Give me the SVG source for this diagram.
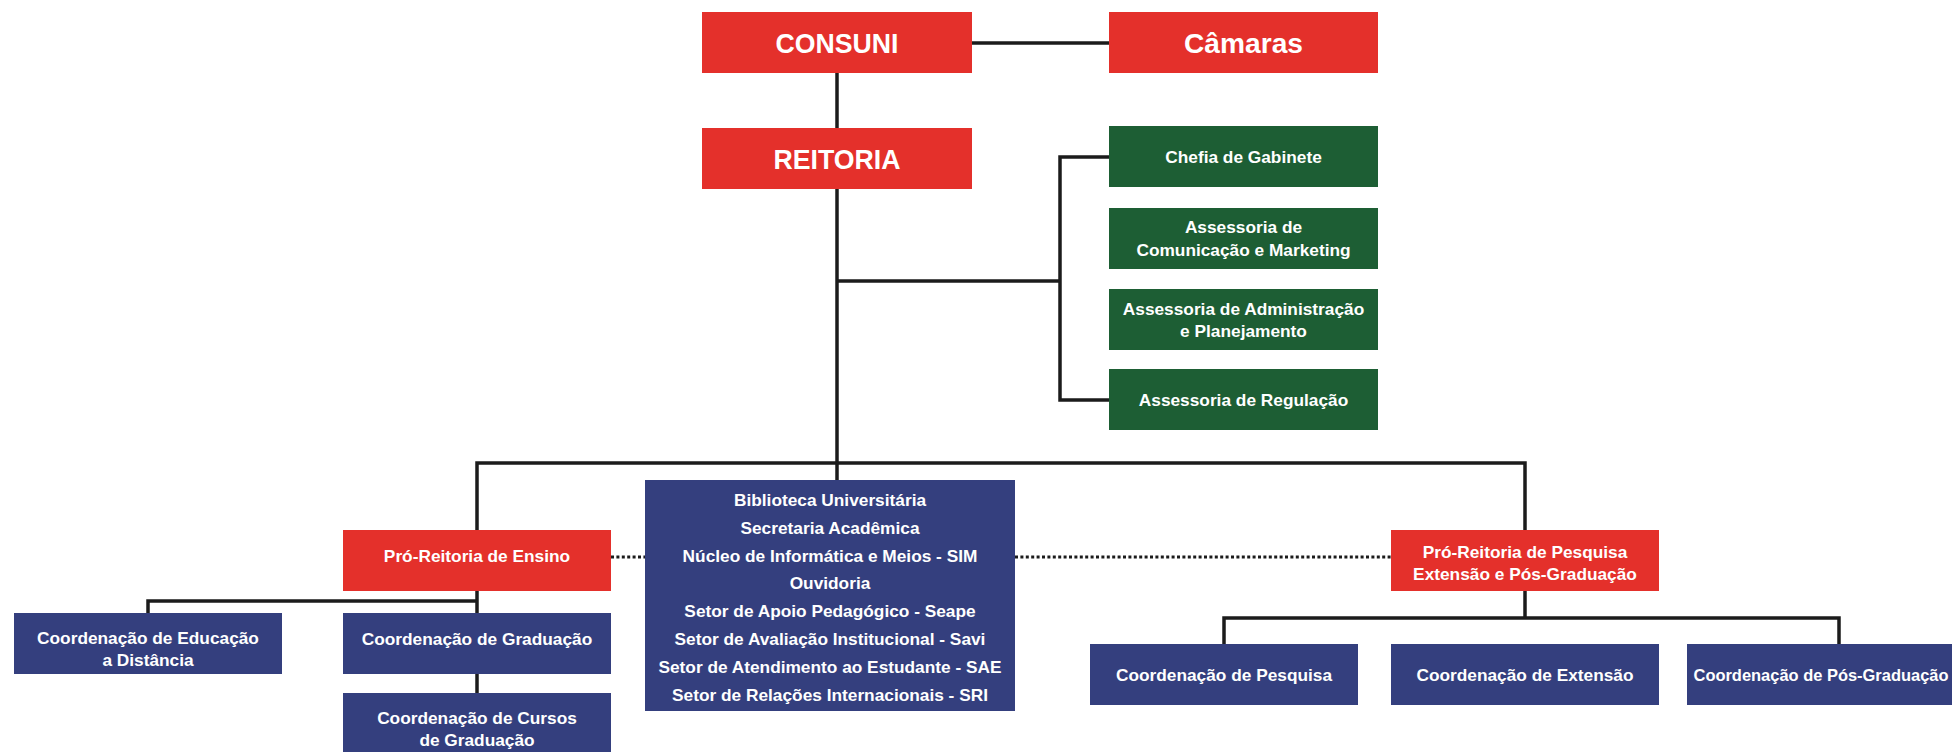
<svg xmlns="http://www.w3.org/2000/svg" width="1952" height="752" viewBox="0 0 1952 752">
<style>
  .red{fill:#E4302B}
  .green{fill:#1D5E34}
  .navy{fill:#343F7E}
  text{font-family:"Liberation Sans",Arial,"DejaVu Sans",sans-serif;font-weight:bold;fill:#ffffff;text-anchor:middle}
  .big{font-size:28px}
  .sm{font-size:17.3px}
  .ln{fill:none;stroke:#1b1b1b;stroke-width:3.5;stroke-linejoin:miter}
  .dot{fill:none;stroke:#1b1b1b;stroke-width:3;stroke-dasharray:3 2.4}
</style>
<rect width="1952" height="752" fill="#ffffff"/>
<g id="connectors">
  <path class="ln" d="M972 43 H1109"/>
  <path class="ln" d="M837 73 V128"/>
  <path class="ln" d="M837 189 V480"/>
  <path class="ln" d="M837 281 H1060"/>
  <path class="ln" d="M1109 157 H1060 V400 H1109"/>
  <path class="ln" d="M477 530 V463 H1525 V530"/>
  <path class="ln" d="M477 591 V613"/>
  <path class="ln" d="M148 613 V601 H477"/>
  <path class="ln" d="M477 674 V693"/>
  <path class="ln" d="M1525 591 V618"/>
  <path class="ln" d="M1224 644 V618 H1839 V644"/>
  <path class="dot" d="M611 557 H645"/>
  <path class="dot" d="M1015 557 H1391"/>
</g>
<g id="consuni">
  <rect class="red" x="702" y="12" width="270" height="61"/>
  <text class="big" x="837" y="53" textLength="123" lengthAdjust="spacingAndGlyphs">CONSUNI</text>
</g>
<g id="camaras">
  <rect class="red" x="1109" y="12" width="269" height="61"/>
  <text class="big" x="1243.5" y="53" textLength="119" lengthAdjust="spacingAndGlyphs">Câmaras</text>
</g>
<g id="reitoria">
  <rect class="red" x="702" y="128" width="270" height="61"/>
  <text class="big" x="837" y="168.5" textLength="127" lengthAdjust="spacingAndGlyphs">REITORIA</text>
</g>
<g id="chefia">
  <rect class="green" x="1109" y="126" width="269" height="61"/>
  <text class="sm" x="1243.5" y="163">Chefia de Gabinete</text>
</g>
<g id="ascom">
  <rect class="green" x="1109" y="208" width="269" height="61"/>
  <text class="sm" x="1243.5" y="233">Assessoria de</text>
  <text class="sm" x="1243.5" y="256">Comunicação e Marketing</text>
</g>
<g id="asplan">
  <rect class="green" x="1109" y="289" width="269" height="61"/>
  <text class="sm" x="1243.5" y="315">Assessoria de Administração</text>
  <text class="sm" x="1243.5" y="337">e Planejamento</text>
</g>
<g id="regulacao">
  <rect class="green" x="1109" y="369" width="269" height="61"/>
  <text class="sm" x="1243.5" y="406">Assessoria de Regulação</text>
</g>
<g id="orgaos">
  <rect class="navy" x="645" y="480" width="370" height="231"/>
  <text class="sm" x="830" y="506">Biblioteca Universitária</text>
  <text class="sm" x="830" y="533.8">Secretaria Acadêmica</text>
  <text class="sm" x="830" y="561.6">Núcleo de Informática e Meios - SIM</text>
  <text class="sm" x="830" y="589.4">Ouvidoria</text>
  <text class="sm" x="830" y="617.2">Setor de Apoio Pedagógico - Seape</text>
  <text class="sm" x="830" y="645">Setor de Avaliação Institucional - Savi</text>
  <text class="sm" x="830" y="672.8">Setor de Atendimento ao Estudante - SAE</text>
  <text class="sm" x="830" y="700.6">Setor de Relações Internacionais - SRI</text>
</g>
<g id="proreitoria-ensino">
  <rect class="red" x="343" y="530" width="268" height="61"/>
  <text class="sm" x="477" y="562">Pró-Reitoria de Ensino</text>
</g>
<g id="proreitoria-pesquisa">
  <rect class="red" x="1391" y="530" width="268" height="61"/>
  <text class="sm" x="1525" y="558">Pró-Reitoria de Pesquisa</text>
  <text class="sm" x="1525" y="580">Extensão e Pós-Graduação</text>
</g>
<g id="coord-ead">
  <rect class="navy" x="14" y="613" width="268" height="61"/>
  <text class="sm" x="148" y="644">Coordenação de Educação</text>
  <text class="sm" x="148" y="666">a Distância</text>
</g>
<g id="coord-graduacao">
  <rect class="navy" x="343" y="613" width="268" height="61"/>
  <text class="sm" x="477" y="645">Coordenação de Graduação</text>
</g>
<g id="coord-cursos">
  <rect class="navy" x="343" y="693" width="268" height="61"/>
  <text class="sm" x="477" y="724">Coordenação de Cursos</text>
  <text class="sm" x="477" y="746">de Graduação</text>
</g>
<g id="coord-pesquisa">
  <rect class="navy" x="1090" y="644" width="268" height="61"/>
  <text class="sm" x="1224" y="681">Coordenação de Pesquisa</text>
</g>
<g id="coord-extensao">
  <rect class="navy" x="1391" y="644" width="268" height="61"/>
  <text class="sm" x="1525" y="681">Coordenação de Extensão</text>
</g>
<g id="coord-pos">
  <rect class="navy" x="1687" y="644" width="268" height="61"/>
  <text class="sm" x="1821" y="681" textLength="255" lengthAdjust="spacingAndGlyphs">Coordenação de Pós-Graduação</text>
</g>
</svg>
